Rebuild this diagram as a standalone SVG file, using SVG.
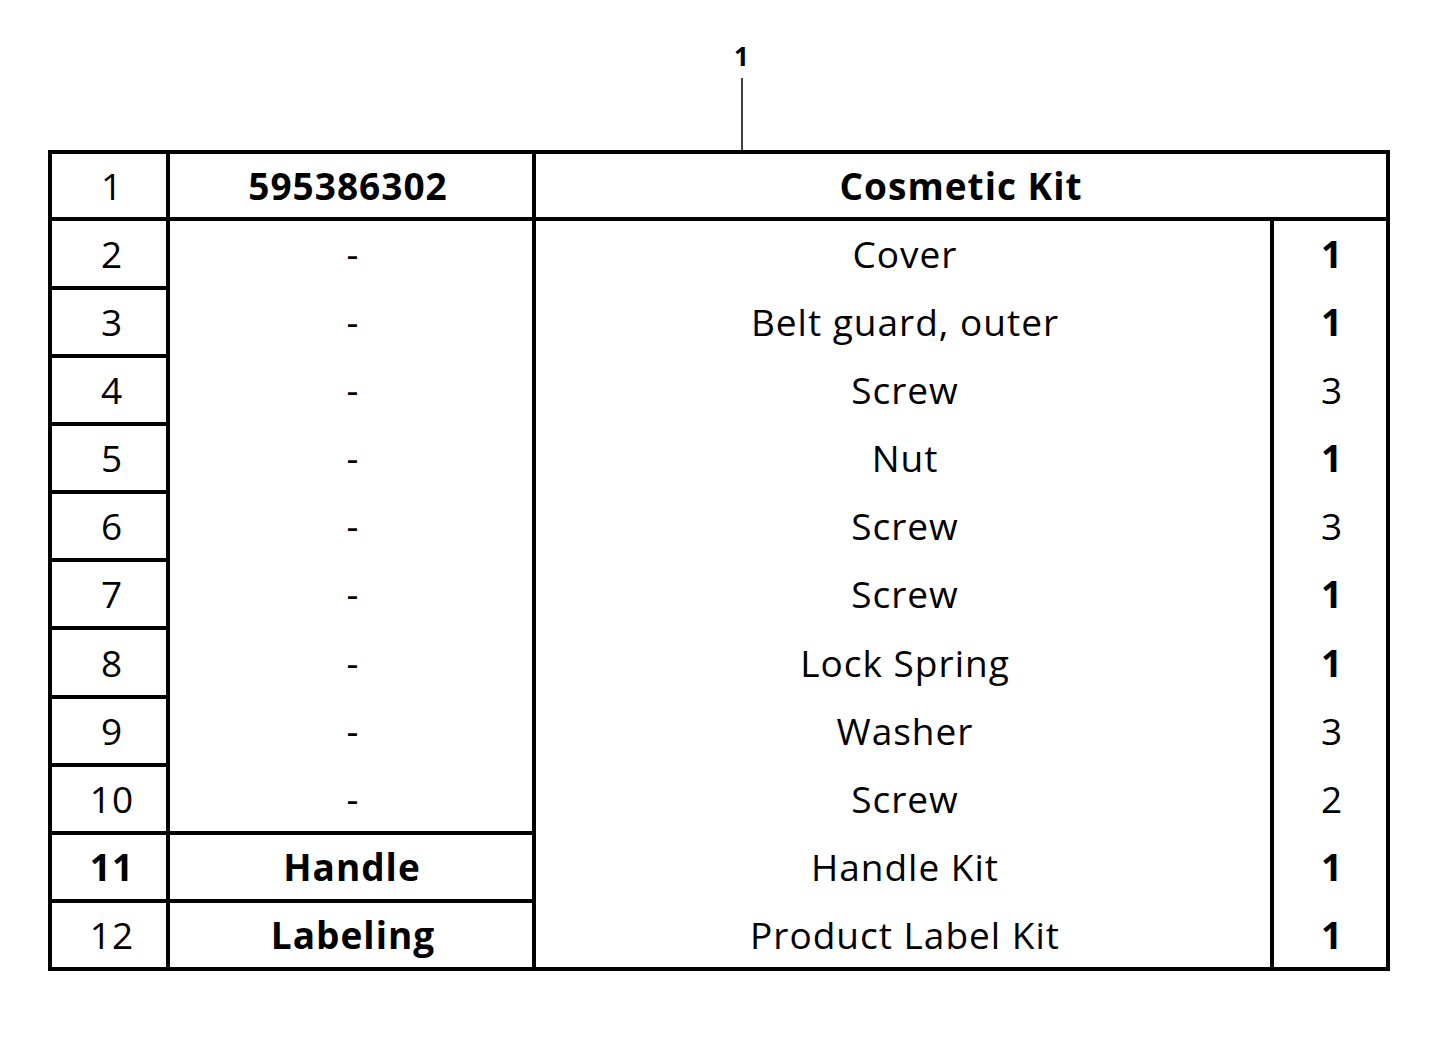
<svg xmlns="http://www.w3.org/2000/svg" width="1445" height="1043" viewBox="0 0 1445 1043">
<style>
.l{stroke:#000;stroke-width:4;fill:none}
text{font-family:"Open Sans","Liberation Sans",sans-serif;font-size:37px;text-anchor:middle;fill:#000;letter-spacing:1px}
.b{font-weight:bold}
</style>
<rect width="1445" height="1043" fill="#fff"/>
<g id="callout"><text x="742" y="66" class="b" style="font-size:26px">1</text><line x1="742" y1="78" x2="742" y2="151" stroke="#000" stroke-width="1.5"/></g>
<g id="grid" class="l">
<rect x="50" y="152" width="1338" height="817"/>
<line x1="168" y1="152" x2="168" y2="969"/>
<line x1="534" y1="152" x2="534" y2="969"/>
<line x1="1272" y1="219" x2="1272" y2="969"/>
<line x1="50" y1="219" x2="1388" y2="219"/>
<path d="M50 288H168M50 356H168M50 424H168M50 492H168M50 560H168M50 628H168M50 697H168M50 765H168M50 833H534M50 901H534"/>
</g>
<g id="col1">
<text x="112" y="200">1</text><text x="112" y="268">2</text><text x="112" y="336">3</text><text x="112" y="404">4</text><text x="112" y="472">5</text><text x="112" y="540">6</text><text x="112" y="608">7</text><text x="112" y="677">8</text><text x="112" y="745">9</text><text x="112" y="813">10</text><text x="112" y="881" class="b">11</text><text x="112" y="949">12</text>
</g>
<g id="col2">
<text x="348" y="200" class="b">595386302</text>
<text x="353" y="268">-</text><text x="353" y="336">-</text><text x="353" y="404">-</text><text x="353" y="472">-</text><text x="353" y="540">-</text><text x="353" y="608">-</text><text x="353" y="677">-</text><text x="353" y="745">-</text><text x="353" y="813">-</text>
<text x="352" y="881" class="b">Handle</text><text x="353" y="949" class="b">Labeling</text>
</g>
<g id="col3">
<text x="961" y="200" class="b">Cosmetic Kit</text>
<text x="905" y="268">Cover</text><text x="905" y="336">Belt guard, outer</text><text x="905" y="404">Screw</text><text x="905" y="472">Nut</text><text x="905" y="540">Screw</text><text x="905" y="608">Screw</text><text x="905" y="677">Lock Spring</text><text x="905" y="745">Washer</text><text x="905" y="813">Screw</text><text x="905" y="881">Handle Kit</text><text x="905" y="949">Product Label Kit</text>
</g>
<g id="col4">
<text x="1332" y="268" class="b">1</text><text x="1332" y="336" class="b">1</text><text x="1332" y="404">3</text><text x="1332" y="472" class="b">1</text><text x="1332" y="540">3</text><text x="1332" y="608" class="b">1</text><text x="1332" y="677" class="b">1</text><text x="1332" y="745">3</text><text x="1332" y="813">2</text><text x="1332" y="881" class="b">1</text><text x="1332" y="949" class="b">1</text>
</g>
</svg>
